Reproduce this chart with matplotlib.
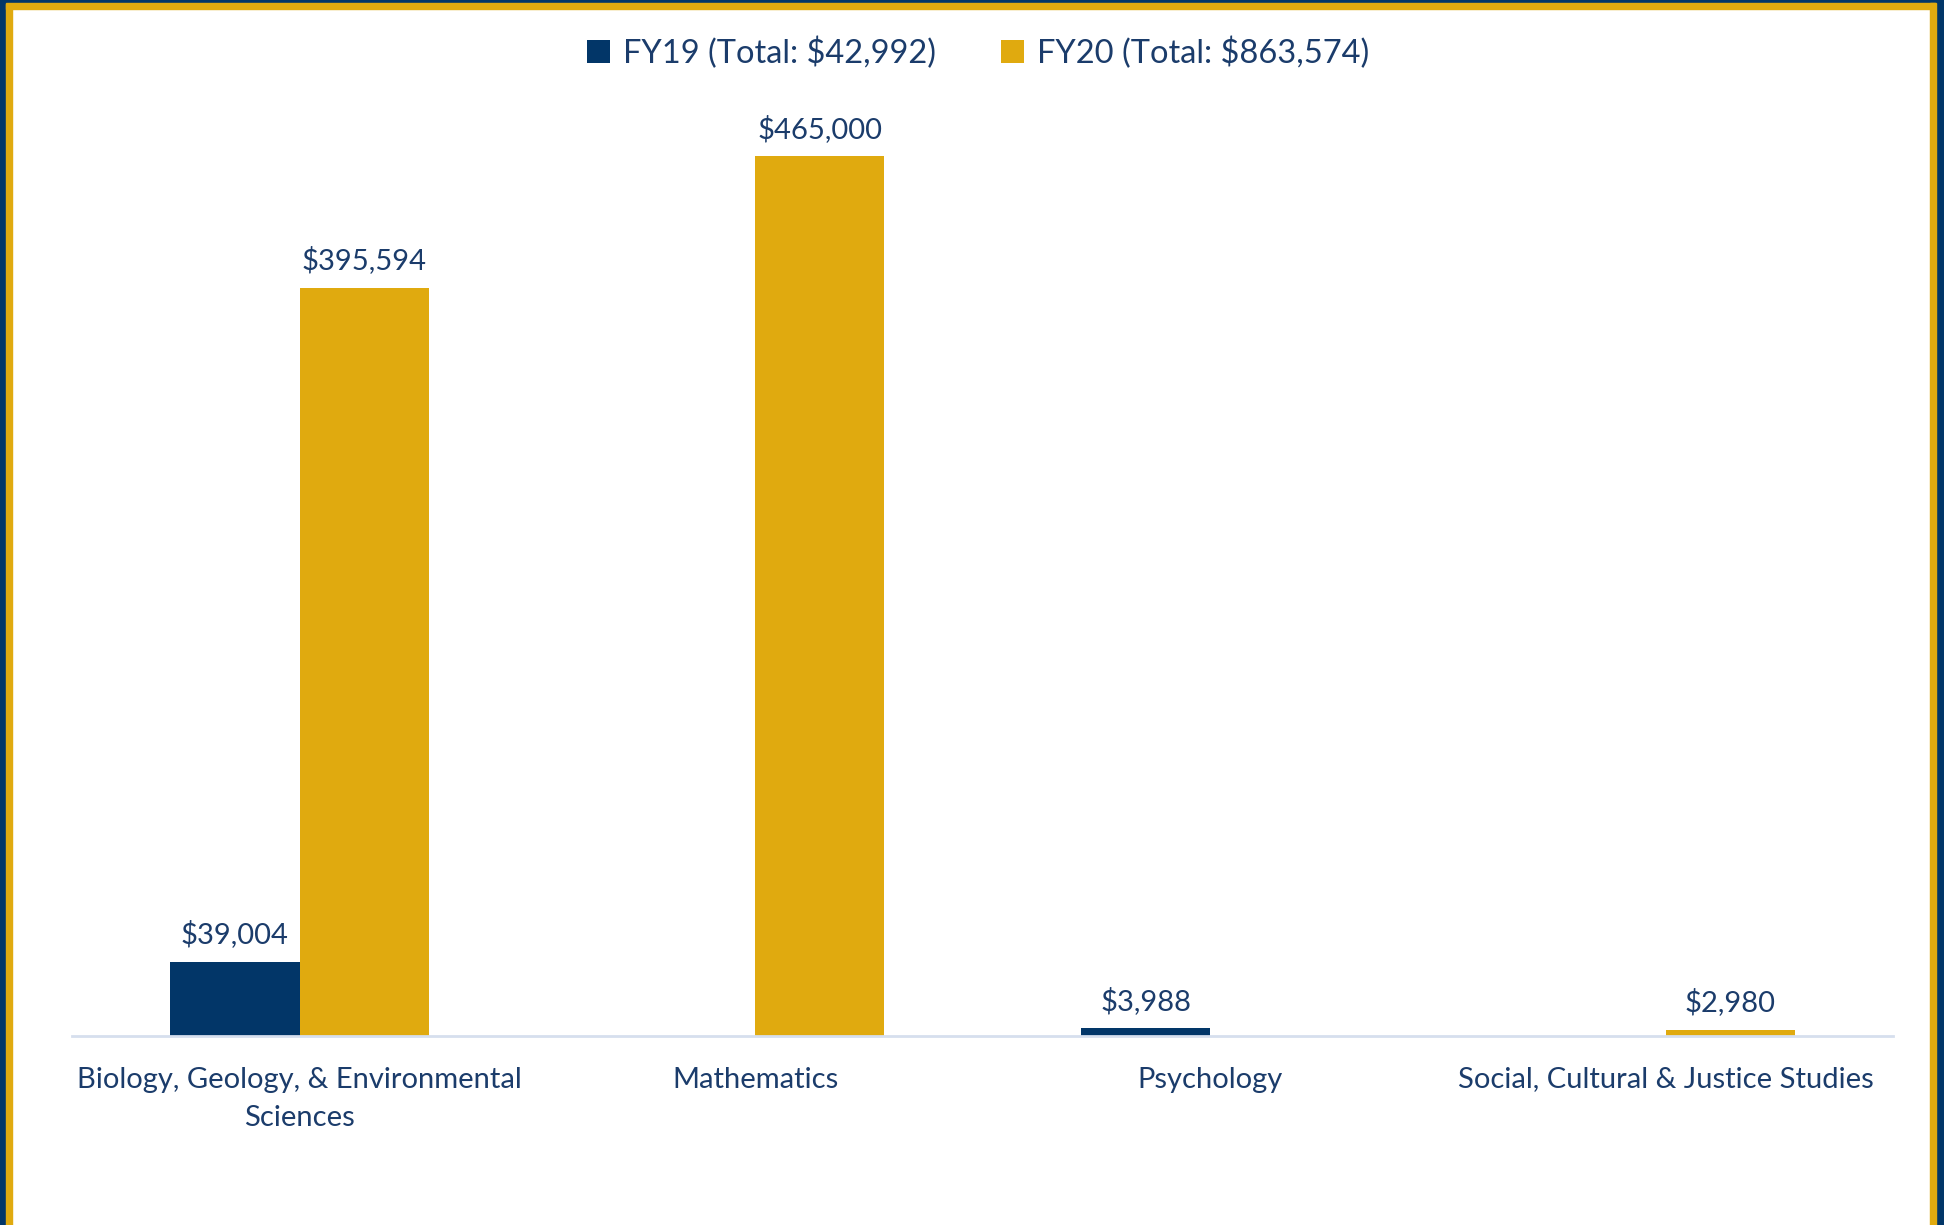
import numpy as np
import matplotlib.pyplot as plt
from matplotlib.patches import Rectangle

# data
categories = ["Biology, Geology, & Environmental\nSciences", "Mathematics",
              "Psychology", "Social, Cultural & Justice Studies"]
fy19 = [39004, 0, 3988, 0]
fy20 = [395594, 465000, 0, 2980]
series_names = ["FY19 (Total: $42,992)", "FY20 (Total: $863,574)"]

navy = "#023668"
gold = "#E0AA0F"
text_color = "#1B3C6B"

plt.rcParams['font.family'] = ['Lato', 'DejaVu Sans']

fig = plt.figure(figsize=(19.44, 12.25), dpi=100)
ax = fig.add_axes([0.037, 0.1543, 0.937, 0.772])

x = np.arange(len(categories))
w = 0.284
b1 = ax.bar(x - w / 2, fy19, w, color=navy, label=series_names[0])
b2 = ax.bar(x + w / 2, fy20, w, color=gold, label=series_names[1])

# data labels, skip empty bars
for bars, vals in ((b1, fy19), (b2, fy20)):
    for bar, v in zip(bars, vals):
        if v == 0:
            continue
        ax.annotate(f"${v:,}", (bar.get_x() + bar.get_width() / 2, v),
                    xytext=(0, 10), textcoords="offset points",
                    ha="center", va="bottom", fontsize=21, color=text_color)

ax.set_xlim(-0.5, len(categories) - 0.5)
ax.set_ylim(0, 500000)
ax.set_yticks([])
ax.set_xticks(x)
ax.set_xticklabels(categories, fontsize=21, color=text_color, linespacing=1.6)
ax.tick_params(axis="x", length=0, pad=22)
for s in ["top", "right", "left"]:
    ax.spines[s].set_visible(False)
ax.spines["bottom"].set_color("#D6DFEE")
ax.spines["bottom"].set_linewidth(2)

fig.legend(loc="center", bbox_to_anchor=(0.503, 0.957), ncol=2, frameon=False,
           fontsize=23.5, labelcolor=text_color, handlelength=0.7, handleheight=0.7,
           handletextpad=0.4, columnspacing=2.0)

# double frame around the chart
W, H = 1944, 1225
fig.patches.append(Rectangle((0, 0), 6 / W, 1, transform=fig.transFigure, color=navy, zorder=-1))
fig.patches.append(Rectangle((6 / W, 0), 6 / W, 1 - 3 / H, transform=fig.transFigure, color=gold, zorder=-1))
fig.patches.append(Rectangle((0, 1 - 3 / H), 1, 3 / H, transform=fig.transFigure, color=navy, zorder=-1))
fig.patches.append(Rectangle((6 / W, 1 - 9 / H), 1 - 14 / W, 6 / H, transform=fig.transFigure, color=gold, zorder=-1))
fig.patches.append(Rectangle((1 - 8 / W, 0), 8 / W, 1, transform=fig.transFigure, color=navy, zorder=-1))
fig.patches.append(Rectangle((1 - 14 / W, 0), 6 / W, 1 - 3 / H, transform=fig.transFigure, color=gold, zorder=-1))

fig.savefig("out.png", dpi=100)
